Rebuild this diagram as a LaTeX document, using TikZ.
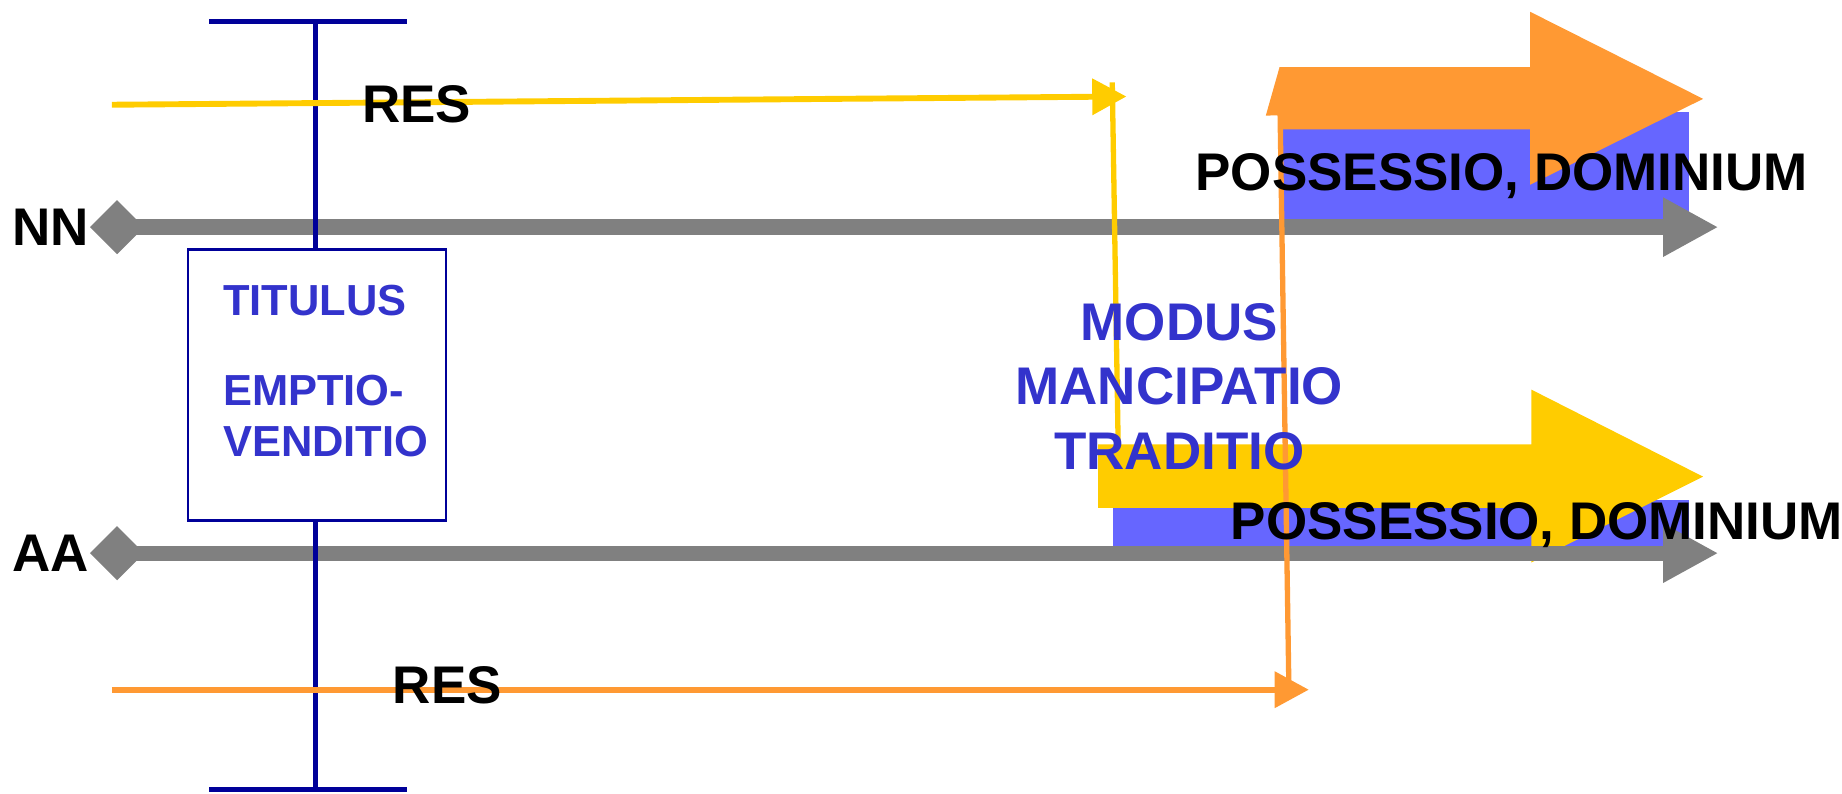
\documentclass[tikz,border=0pt]{standalone}
\usepackage{fontspec}
\setmainfont{Liberation Sans}
\usepackage{tikz}
\usetikzlibrary{
        arrows.meta,
        positioning
    }
\definecolor{resyellow}{HTML}{FFCC00}
\definecolor{resorange}{HTML}{FF9933}
\definecolor{possblue}{HTML}{6666FF}
\definecolor{beamblue}{HTML}{000099}
\definecolor{textblue}{HTML}{3333CC}

\begin{document}
\begin{tikzpicture}
[x=0.01cm, y=-0.01cm,
bigtext/.style={font=\fontsize{12.8}{15.6}\selectfont\bfseries, inner sep=0pt},
boxtext/.style={font=\fontsize{10.5}{12.2}\selectfont\bfseries, text=textblue, inner sep=0pt, align=left},
titbox/.style={draw=beamblue, fill=white, line width=0.6pt, minimum width=2.19cm, minimum height=2.30cm, inner sep=0pt},
timeline/.style={draw=gray, line width=0.13cm, {Diamond[length=0.46cm,width=0.46cm]}-{Triangle[length=0.47cm,width=0.47cm]}},
beam/.style={draw=beamblue, line width=0.04cm},
resarrow/.style={line width=0.05cm, -{Triangle[length=0.29cm,width=0.30cm]}},
transfer/.style={line width=0.045cm},]
    \useasboundingbox (0,0) rectangle (1565,674.6);

    % possessio blocks and big arrows
    \fill[possblue] (1090,95) rectangle (1435,200);
    \fill[possblue] (946,425) rectangle (1435,470);
    \fill[resorange] (1087,57) -- (1300,57) -- (1300,10) -- (1447,84) -- (1300,157) -- (1300,110) -- (1087,110) -- cycle;
    \fill[resyellow] (933,377.5) -- (1301,377.5) -- (1301,331) -- (1447,405) -- (1301,478) -- (1301,431.5) -- (933,431.5) -- cycle;

    \node (nn) [bigtext, anchor=west] at (10,193) {NN};
    \node (aa) [bigtext, anchor=west] at (10,470) {AA};
    \coordinate (nnend) at (1460,193);
    \coordinate (aaend) at (1460,470);
    \draw[timeline] (nn.east) -- (nnend);
    \draw[timeline] (aa.east) -- (aaend);

    \coordinate (beamtop) at (268,18);
    \coordinate (beambot) at (268,671);
    \draw[beam] ([xshift=-0.90cm]beamtop) -- ([xshift=0.78cm]beamtop) (beamtop) -- (beambot)
        ([xshift=-0.90cm]beambot) -- ([xshift=0.78cm]beambot);
    \node (titulus) [titbox] at (269.5,327) {};
    \node (titext) [boxtext, below right=0.305cm and 0.30cm of titulus.north west] {TITULUS\\[0.34cm]EMPTIO-\\VENDITIO};

    \coordinate (resstart) at (95,89);
    \coordinate (resturn) at (957,82);
    \coordinate (modtop) at (945,70);
    \coordinate (modbot) at (950,377);
    \draw[resarrow, resyellow] (resstart) -- (resturn);
    \draw[transfer, resyellow] (modtop) -- (modbot);

    \coordinate (pricestart) at (95,586);
    \coordinate (priceturn) at (1112,586);
    \coordinate (pricebot) at (1095,580);
    \coordinate (pricetop) at (1087,57);
    \draw[resarrow, resorange] (pricestart) -- (priceturn);
    \draw[transfer, resorange, -{Triangle[length=0.41cm,width=0.23cm]}] (pricebot) -- (pricetop);

    \node (resnn) [bigtext, anchor=base west] at (307,104) {RES};
    \node (resaa) [bigtext, anchor=base west] at (333,598) {RES};
    \node (modus) [bigtext, text=textblue, align=center, anchor=north] at (1002,257) {MODUS\\MANCIPATIO\\TRADITIO};
    \node (possnn) [bigtext, anchor=base west] at (1015,162) {POSSESSIO, DOMINIUM};
    \node (possaa) [bigtext, anchor=base west] at (1045,458) {POSSESSIO, DOMINIUM};
\end{tikzpicture}
\end{document}
